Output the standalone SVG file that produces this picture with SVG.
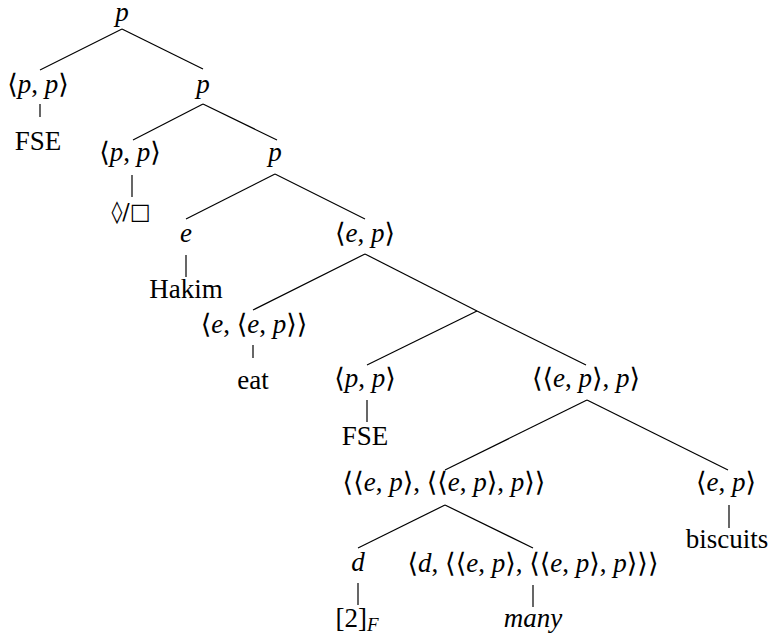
<svg xmlns="http://www.w3.org/2000/svg" width="776" height="638" viewBox="0 0 776 638">
<style>
text{font-family:"Liberation Serif","DejaVu Serif",serif;font-size:27px;fill:#000;text-anchor:middle}
.i{font-style:italic}
.sub{font-size:19px;font-style:italic}
text.sym{font-family:"DejaVu Serif","DejaVu Sans",sans-serif;font-size:22px}
#edges line{stroke:#000;stroke-width:1.2;stroke-linecap:butt}
</style>
<rect width="776" height="638" fill="#fff"/>
<g id="edges">
<line x1="122" y1="29" x2="40" y2="70"/>
<line x1="122" y1="29" x2="203" y2="69"/>
<line x1="40" y1="104" x2="40" y2="117"/>
<line x1="203" y1="104" x2="133" y2="140"/>
<line x1="203" y1="104" x2="277" y2="140"/>
<line x1="132" y1="175" x2="132" y2="197"/>
<line x1="275" y1="174" x2="186" y2="219"/>
<line x1="275" y1="174" x2="365" y2="219"/>
<line x1="186" y1="255" x2="186" y2="277"/>
<line x1="365" y1="254" x2="253" y2="310"/>
<line x1="365" y1="254" x2="477" y2="311"/>
<line x1="253" y1="345" x2="253" y2="358"/>
<line x1="477" y1="311" x2="367" y2="365"/>
<line x1="477" y1="311" x2="586" y2="365"/>
<line x1="367" y1="400" x2="367" y2="422"/>
<line x1="587" y1="400" x2="445" y2="470"/>
<line x1="587" y1="400" x2="728" y2="470"/>
<line x1="445" y1="505" x2="358" y2="548"/>
<line x1="445" y1="505" x2="533" y2="548"/>
<line x1="729" y1="505" x2="729" y2="528"/>
<line x1="358" y1="583" x2="358" y2="605"/>
<line x1="533" y1="585" x2="533" y2="607"/>
</g>
<g id="n-root"><text x="122" y="21" class="i">p</text></g>
<g id="n-pp1"><text x="38" y="93">⟨<tspan class="i">p</tspan>, <tspan class="i">p</tspan>⟩</text></g>
<g id="n-fse1"><text x="38" y="150">FSE</text></g>
<g id="n-p2"><text x="203" y="93" class="i">p</text></g>
<g id="n-pp2"><text x="130" y="161">⟨<tspan class="i">p</tspan>, <tspan class="i">p</tspan>⟩</text></g>
<g id="n-modal"><text x="131" y="219" class="sym">◊/□</text></g>
<g id="n-p3"><text x="275" y="161" class="i">p</text></g>
<g id="n-e"><text x="186" y="242" class="i">e</text></g>
<g id="n-hakim"><text x="186" y="298">Hakim</text></g>
<g id="n-ep1"><text x="365" y="242">⟨<tspan class="i">e</tspan>, <tspan class="i">p</tspan>⟩</text></g>
<g id="n-eep"><text x="254" y="333">⟨<tspan class="i">e</tspan>, ⟨<tspan class="i">e</tspan>, <tspan class="i">p</tspan>⟩⟩</text></g>
<g id="n-eat"><text x="253" y="389">eat</text></g>
<g id="n-pp3"><text x="365" y="387">⟨<tspan class="i">p</tspan>, <tspan class="i">p</tspan>⟩</text></g>
<g id="n-fse2"><text x="365" y="445">FSE</text></g>
<g id="n-epp"><text x="586" y="387">⟨⟨<tspan class="i">e</tspan>, <tspan class="i">p</tspan>⟩, <tspan class="i">p</tspan>⟩</text></g>
<g id="n-det"><text x="444" y="491">⟨⟨<tspan class="i">e</tspan>, <tspan class="i">p</tspan>⟩, ⟨⟨<tspan class="i">e</tspan>, <tspan class="i">p</tspan>⟩, <tspan class="i">p</tspan>⟩⟩</text></g>
<g id="n-ep2"><text x="726" y="491">⟨<tspan class="i">e</tspan>, <tspan class="i">p</tspan>⟩</text></g>
<g id="n-biscuits"><text x="727" y="548">biscuits</text></g>
<g id="n-d"><text x="358" y="571" class="i">d</text></g>
<g id="n-two"><text x="357" y="627">[2]<tspan class="sub" dy="4">F</tspan></text></g>
<g id="n-many-type"><text x="533" y="572">⟨<tspan class="i">d</tspan>, ⟨⟨<tspan class="i">e</tspan>, <tspan class="i">p</tspan>⟩, ⟨⟨<tspan class="i">e</tspan>, <tspan class="i">p</tspan>⟩, <tspan class="i">p</tspan>⟩⟩⟩</text></g>
<g id="n-many"><text x="533" y="627" class="i">many</text></g>
</svg>
